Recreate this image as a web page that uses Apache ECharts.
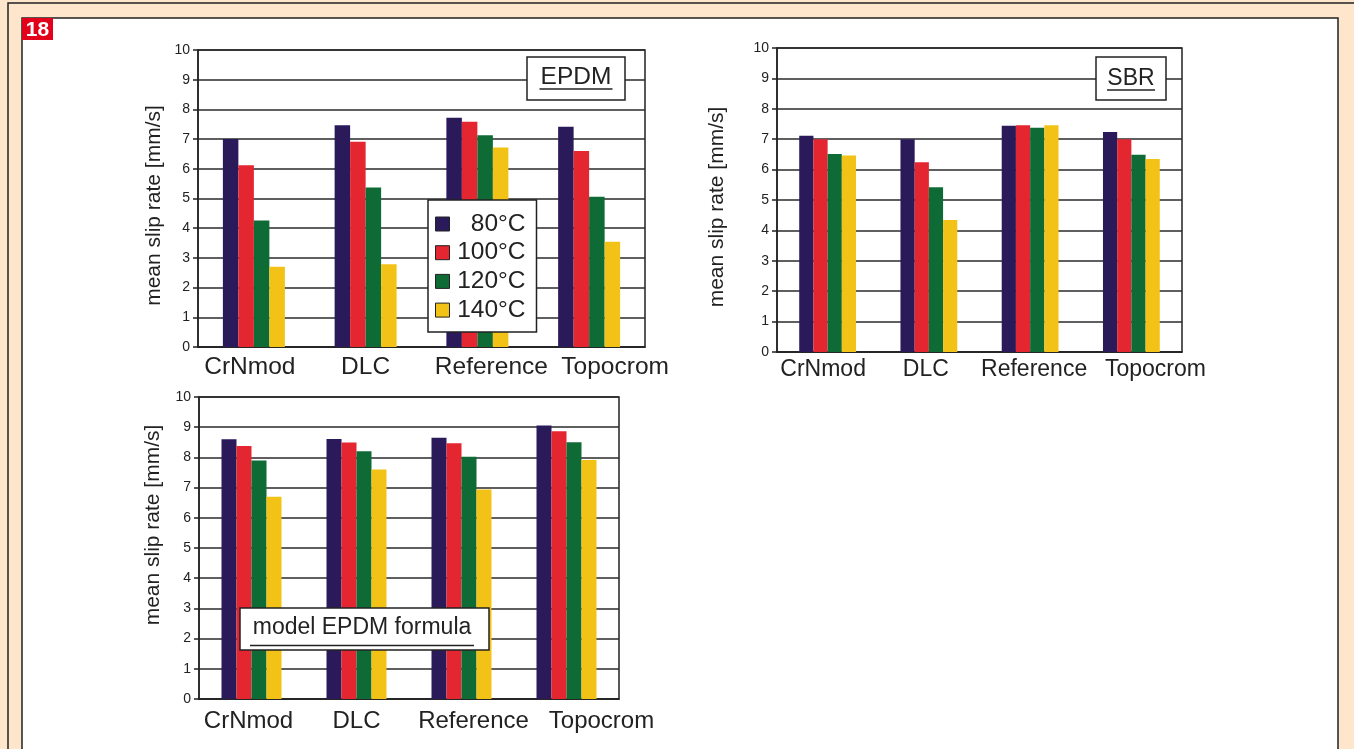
<!DOCTYPE html>
<html>
<head>
<meta charset="utf-8">
<style>
  html, body { margin: 0; padding: 0; background: #fde6cc; }
  #chart { width: 1354px; height: 749px; }
</style>
<script src="https://cdn.jsdelivr.net/npm/echarts@6/dist/echarts.min.js"></script>
</head>
<body>
<div id="chart"></div>
<script>
// Mean slip rate [mm/s] per coating, for four test temperatures
const categories = ['CrNmod', 'DLC', 'Reference', 'Topocrom'];
const temps = ['80°C', '100°C', '120°C', '140°C'];
const yTicks = [0, 1, 2, 3, 4, 5, 6, 7, 8, 9, 10];

// EPDM compound
const epdm80  = [7.00, 7.47, 7.72, 7.42];
const epdm100 = [6.12, 6.91, 7.58, 6.60];
const epdm120 = [4.26, 5.37, 7.13, 5.06];
const epdm140 = [2.70, 2.79, 6.72, 3.54];

// SBR compound
const sbr80  = [7.11, 7.00, 7.44, 7.24];
const sbr100 = [7.00, 6.24, 7.46, 7.00];
const sbr120 = [6.51, 5.42, 7.38, 6.49];
const sbr140 = [6.46, 4.34, 7.46, 6.35];

// model EPDM formula
const model80  = [8.60, 8.61, 8.65, 9.06];
const model100 = [8.38, 8.49, 8.47, 8.87];
const model120 = [7.90, 8.20, 8.02, 8.50];
const model140 = [6.70, 7.60, 6.94, 7.91];

const colors = ['#2b1a5a', '#e32630', '#0f6b35', '#f2c316'];
const FONT = "'Liberation Sans', Arial, sans-serif";
const INK = '#222';

// labelShift: horizontal nudge of each category label so long names don't collide
const panels = [
  { grid: { left: 198, top: 50, width: 447, height: 297 }, data: [epdm80, epdm100, epdm120, epdm140],
    barWidth: 15.5, nameGap: 33, nameShift: 7, xMargin: 8, xFont: 24.5, labelShift: [-4, 0, 14, 26] },
  { grid: { left: 777, top: 48, width: 405, height: 304 }, data: [sbr80, sbr100, sbr120, sbr140],
    barWidth: 14.2, nameGap: 49, nameShift: 7, xMargin: 6, xFont: 23, labelShift: [-4.5, -3, 4, 24] },
  { grid: { left: 199, top: 397, width: 420, height: 302 }, data: [model80, model100, model120, model140],
    barWidth: 15, nameGap: 35, nameShift: -23, xMargin: 10, xFont: 24, labelShift: [-3, 0, 12, 35] }
];

const grids = [], xAxes = [], yAxes = [], series = [];
panels.forEach((p, i) => {
  grids.push(Object.assign({ show: true, borderColor: INK, borderWidth: 1.5, backgroundColor: 'transparent' }, p.grid));
  xAxes.push({
    type: 'category', gridIndex: i,
    data: categories.map((c, j) => {
      const s = p.labelShift[j];
      return { value: c, textStyle: { padding: s >= 0 ? [0, 0, 0, 2 * s] : [0, -2 * s, 0, 0] } };
    }),
    axisLine: { lineStyle: { color: INK, width: 1.5 } },
    axisTick: { show: false },
    axisLabel: { color: INK, fontSize: p.xFont, fontFamily: FONT, margin: p.xMargin, interval: 0 }
  });
  const ns = p.nameShift;
  yAxes.push({
    type: 'value', gridIndex: i, min: yTicks[0], max: yTicks[yTicks.length - 1], interval: 1,
    name: 'mean slip rate [mm/s]', nameLocation: 'middle', nameGap: p.nameGap,
    nameTextStyle: { color: INK, fontSize: 21, fontFamily: FONT,
      padding: ns >= 0 ? [0, 2 * ns, 0, 0] : [0, 0, 0, -2 * ns] },
    axisLine: { show: true, lineStyle: { color: INK, width: 1.5 } },
    axisTick: { show: true, length: 5, lineStyle: { color: INK, width: 1.5 } },
    axisLabel: { color: INK, fontSize: 14, fontFamily: FONT, margin: 8 },
    splitLine: { show: true, lineStyle: { color: '#2a2a2a', width: 1.6 } }
  });
  p.data.forEach((vals, k) => {
    series.push({
      type: 'bar', name: temps[k], xAxisIndex: i, yAxisIndex: i,
      data: vals, barWidth: p.barWidth, barGap: '0%',
      itemStyle: { color: colors[k] }, z: 3
    });
  });
});

// boxed, underlined caption drawn above the bars
function caption(text, box, cx, cy, underlineY, halfWidth, fontSize) {
  return [
    { type: 'rect', z: 100, shape: box, style: { fill: '#fff', stroke: INK, lineWidth: 1.5 } },
    { type: 'text', z: 101, x: cx, y: cy, style: { text: text, fill: INK, font: fontSize + 'px ' + FONT, align: 'center', verticalAlign: 'middle' } },
    { type: 'line', z: 101, shape: { x1: cx - halfWidth, y1: underlineY, x2: cx + halfWidth, y2: underlineY }, style: { stroke: INK, lineWidth: 1.5 } }
  ];
}

const chart = echarts.init(document.getElementById('chart'));
chart.setOption({
  animation: false,
  backgroundColor: '#fde6cc',
  color: colors,
  textStyle: { fontFamily: FONT },
  grid: grids,
  xAxis: xAxes,
  yAxis: yAxes,
  series: series,
  legend: {
    data: temps,
    orient: 'vertical',
    left: 428, top: 200,
    padding: [10, 11, 8, 7],
    itemWidth: 14, itemHeight: 14, itemGap: 0.7,
    icon: 'rect',
    backgroundColor: '#fff', borderColor: INK, borderWidth: 1.5,
    itemStyle: { borderColor: INK, borderWidth: 1 },
    formatter: name => '{r|' + name + '}',
    textStyle: {
      color: INK, fontFamily: FONT, fontSize: 24, lineHeight: 28,
      rich: { r: { width: 71, align: 'right', fontSize: 24.5, lineHeight: 28, fontFamily: FONT, color: INK } }
    },
    z: 10
  },
  graphic: [
    // page frame
    { type: 'rect', z: -10, shape: { x: 8, y: 3, width: 1400, height: 800 }, style: { fill: '#fde6cc', stroke: INK, lineWidth: 1.5 } },
    { type: 'rect', z: -9, shape: { x: 22, y: 18, width: 1316, height: 800 }, style: { fill: '#fff', stroke: INK, lineWidth: 1.5 } },
    // figure number
    { type: 'rect', z: 5, shape: { x: 22, y: 18, width: 31, height: 22 }, style: { fill: '#e2001a' } },
    { type: 'text', z: 6, x: 37.5, y: 30, style: { text: '18', fill: '#fff', font: 'bold 21px ' + FONT, align: 'center', verticalAlign: 'middle' } }
  ].concat(
    caption('EPDM', { x: 527, y: 57, width: 98, height: 43 }, 576, 77, 89, 36.5, 24.5),
    caption('SBR', { x: 1096, y: 57, width: 70, height: 43 }, 1131, 79, 90, 24, 23),
    caption('model EPDM formula', { x: 240, y: 608, width: 249, height: 42 }, 362, 628, 645.5, 112, 23)
  )
});
</script>
</body>
</html>
